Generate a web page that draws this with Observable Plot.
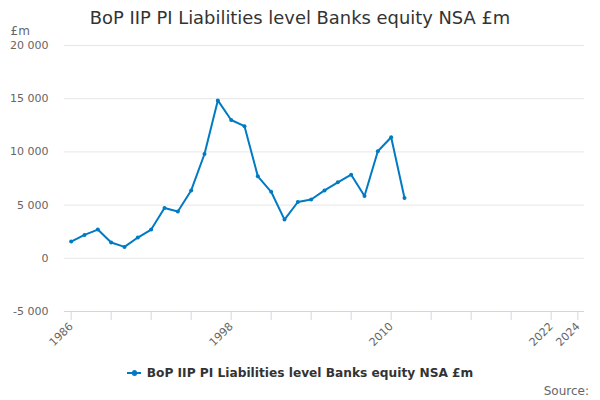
<!DOCTYPE html>
<html>
<head>
<meta charset="utf-8">
<script src="https://cdn.jsdelivr.net/npm/d3@7"></script>
<script src="https://cdn.jsdelivr.net/npm/@observablehq/plot@0.6"></script>
<style>
  html, body { margin: 0; padding: 0; background: #fff; }
  body { width: 600px; height: 400px; position: relative; overflow: hidden; font-family: "DejaVu Sans", sans-serif; }
  #title { position: absolute; left: 0; top: 6px; width: 600px; text-align: center; font-size: 17.9px; color: #333; line-height: 24px; }
  #chart { position: absolute; left: 0; top: 24px; }
  #legend { position: absolute; left: 0; top: 364px; width: 600px; text-align: center; font-size: 12.2px; font-weight: bold; color: #333; line-height: 18px; }
  .sym { display: inline-block; position: relative; width: 14px; height: 2px; background: #007bc3; vertical-align: middle; margin-right: 6px; top: -1px; }
  .sym::after { content: ""; position: absolute; left: 5px; top: -2px; width: 5px; height: 6px; border-radius: 3px; background: #007bc3; }
  #source { position: absolute; right: 11px; top: 384px; font-size: 12px; color: #666; }
</style>
</head>
<body>
<div id="title">BoP IIP PI Liabilities level Banks equity NSA £m</div>
<div id="chart"></div>
<div id="legend"><span class="sym"></span>BoP IIP PI Liabilities level Banks equity NSA £m</div>
<div id="source">Source:</div>
<script>
const years = [1986, 1987, 1988, 1989, 1990, 1991, 1992, 1993, 1994, 1995, 1996, 1997, 1998, 1999, 2000, 2001, 2002, 2003, 2004, 2005, 2006, 2007, 2008, 2009, 2010, 2011];
const values = [1570, 2200, 2700, 1480, 1070, 1950, 2700, 4720, 4400, 6380, 9800, 14840, 13000, 12420, 7700, 6250, 3640, 5290, 5530, 6380, 7140, 7860, 5850, 10060, 11380, 5660];
const xTicks = [1986, 1989, 1992, 1995, 1998, 2001, 2004, 2007, 2010, 2013, 2016, 2019, 2022, 2024];
const xLabels = [1986, 1998, 2010, 2022, 2024];
const yTicks = [-5000, 0, 5000, 10000, 15000, 20000];

const data = years.map((year, i) => ({year, value: values[i]}));
const color = "#007bc3";
const fmt = d => d3.format(",")(d).replace(/,/g, " ").replace("\u2212", "-");

const chart = Plot.plot({
  width: 600,
  height: 330,
  marginTop: 21,
  marginBottom: 43,
  marginLeft: 64,
  marginRight: 16,
  style: {fontFamily: "DejaVu Sans, sans-serif", background: "transparent"},
  x: {domain: [1985.5, 2024.5]},
  y: {domain: [-5000, 20000]},
  marks: [
    Plot.gridY(yTicks, {stroke: "#e6e6e6", strokeOpacity: 1}),
    Plot.axisY(yTicks, {tickSize: 0, tickPadding: 16, tickFormat: fmt, fontSize: 11, fill: "#666", label: null}),
    Plot.ruleY([-5000], {stroke: "#ccd6eb"}),
    Plot.axisX(xTicks, {tickSize: 9, stroke: "#ccd6eb", strokeOpacity: 1, tickFormat: () => "", label: null}),
    Plot.axisX(xLabels, {tickSize: 0, tickPadding: 13, tickRotate: -45, fontSize: 11, fill: "#666", tickFormat: d => String(d), label: null}),
    Plot.line(data, {x: "year", y: "value", stroke: color, strokeWidth: 2}),
    Plot.dot(data, {x: "year", y: "value", r: 2, fill: color}),
    Plot.text(["£m"], {frameAnchor: "top-left", dx: -54, dy: -14, textAnchor: "start", lineAnchor: "middle", fontSize: 12, fill: "#666"})
  ]
});
document.getElementById("chart").appendChild(chart);
</script>
</body>
</html>
